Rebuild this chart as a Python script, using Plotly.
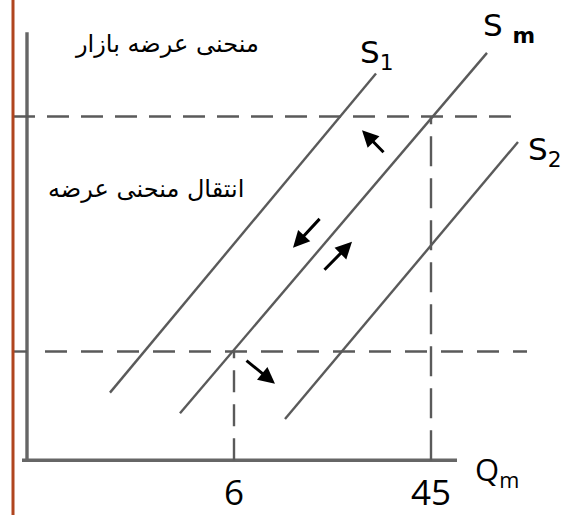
import plotly.graph_objects as go

# --- schematic values (abstract units: quantity on x, price on y) ---
s1_q = [16.6, 69.8]
s1_p = [13.8, 79.0]
sm_q = [30.6, 92.0]
sm_p = [9.6, 83.2]
s2_q = [51.6, 98.2]
s2_p = [8.4, 65.0]

p_high = 70.2
p_low = 22.2
q_low = 41.4      # labelled 6
q_high = 80.8     # labelled 45
tick_vals = [q_low, q_high]
tick_text = ["6", "45"]

upper_dash_q = [-2.8, 99.2]
lower_dash_q = [3.6, 100.0]
lower_tick_q = [-2.6, 0.0]

yaxis_top = 87.4
xaxis_q = [-1.0, 86.0]
border_q = -2.8

# arrows: (tail_q, tail_p, head_q, head_p)
arrows = [
    (71.6, 62.6, 67.0, 67.4),
    (58.8, 49.6, 53.2, 43.4),
    (59.2, 38.6, 65.0, 44.6),
    (43.6, 20.6, 49.6, 15.6),
]

title_top = "منحنی عرضه بازار"
title_mid = "انتقال منحنی عرضه"

GRAY = "#5a5a5a"
fig = go.Figure()

def line(x, y, width=2.4, dash=None, color=GRAY):
    fig.add_trace(go.Scatter(x=x, y=y, mode="lines", hoverinfo="skip",
                             line=dict(color=color, width=width, dash=dash),
                             showlegend=False))

# axes (hand drawn)
line([0, 0], [0, yaxis_top], width=3.4, color="#666666")
line(xaxis_q, [0, 0], width=3.4, color="#666666")

# dashed guides
line(upper_dash_q, [p_high, p_high], dash="22px,12px")
line(lower_tick_q, [p_low, p_low])
line(lower_dash_q, [p_low, p_low], dash="22px,14px")
line([q_low, q_low], [0, p_low], dash="22px,12px")
line([q_high, q_high], [0, p_high], dash="30px,12px")

# supply curves
line(s1_q, s1_p)
line(sm_q, sm_p)
line(s2_q, s2_p)

# left border
fig.add_shape(type="line", xref="x", yref="paper", x0=border_q, x1=border_q,
              y0=-0.2, y1=1.1, line=dict(color="#b0451f", width=3))

ann = []
for tq, tp, hq, hp in arrows:
    ann.append(dict(x=hq, y=hp, ax=tq, ay=tp, xref="x", yref="y", axref="x", ayref="y",
                    showarrow=True, arrowhead=2, arrowsize=1.1, arrowwidth=3,
                    arrowcolor="black", text=""))

FONT = "DejaVu Sans"
ann += [
    dict(x=28.0, y=85.0, text=title_top, showarrow=False, xref="x", yref="y",
         font=dict(family=FONT, size=24, color="black")),
    dict(x=23.8, y=55.4, text=title_mid, showarrow=False, xref="x", yref="y",
         font=dict(family=FONT, size=24, color="black")),
    dict(x=70.0, y=82.8, text="S<sub>1</sub>", showarrow=False, xref="x", yref="y",
         font=dict(family=FONT, size=31, color="black")),
    dict(x=96.4, y=88.4, text="S <sub><b>m</b></sub>", showarrow=False, xref="x", yref="y",
         font=dict(family=FONT, size=31, color="black")),
    dict(x=103.6, y=63.0, text="S<sub>2</sub>", showarrow=False, xref="x", yref="y",
         font=dict(family=FONT, size=31, color="black")),
    dict(x=94.0, y=-0.005, text="Q<sub>m</sub>", showarrow=False, xref="x", yref="paper",
         yanchor="middle", font=dict(family="Open Sans", size=31, color="black")),
]

fig.update_layout(
    width=570, height=515,
    margin=dict(l=0, r=0, t=0, b=36),
    plot_bgcolor="white", paper_bgcolor="white",
    annotations=ann,
    xaxis=dict(range=[-5.4, 108.6], showgrid=False, zeroline=False, showline=False,
               tickvals=tick_vals, ticktext=tick_text, ticks="",
               tickfont=dict(family="Liberation Sans Narrow, Open Sans", size=35,
                             color="black")),
    yaxis=dict(range=[-1.8, 94.0], showgrid=False, zeroline=False, showline=False,
               showticklabels=False, ticks=""),
)

fig.write_html("out.html",
               config={"displayModeBar": False},
               post_script="document.body.style.margin='0px';"
                           "document.body.style.overflow='hidden';")
